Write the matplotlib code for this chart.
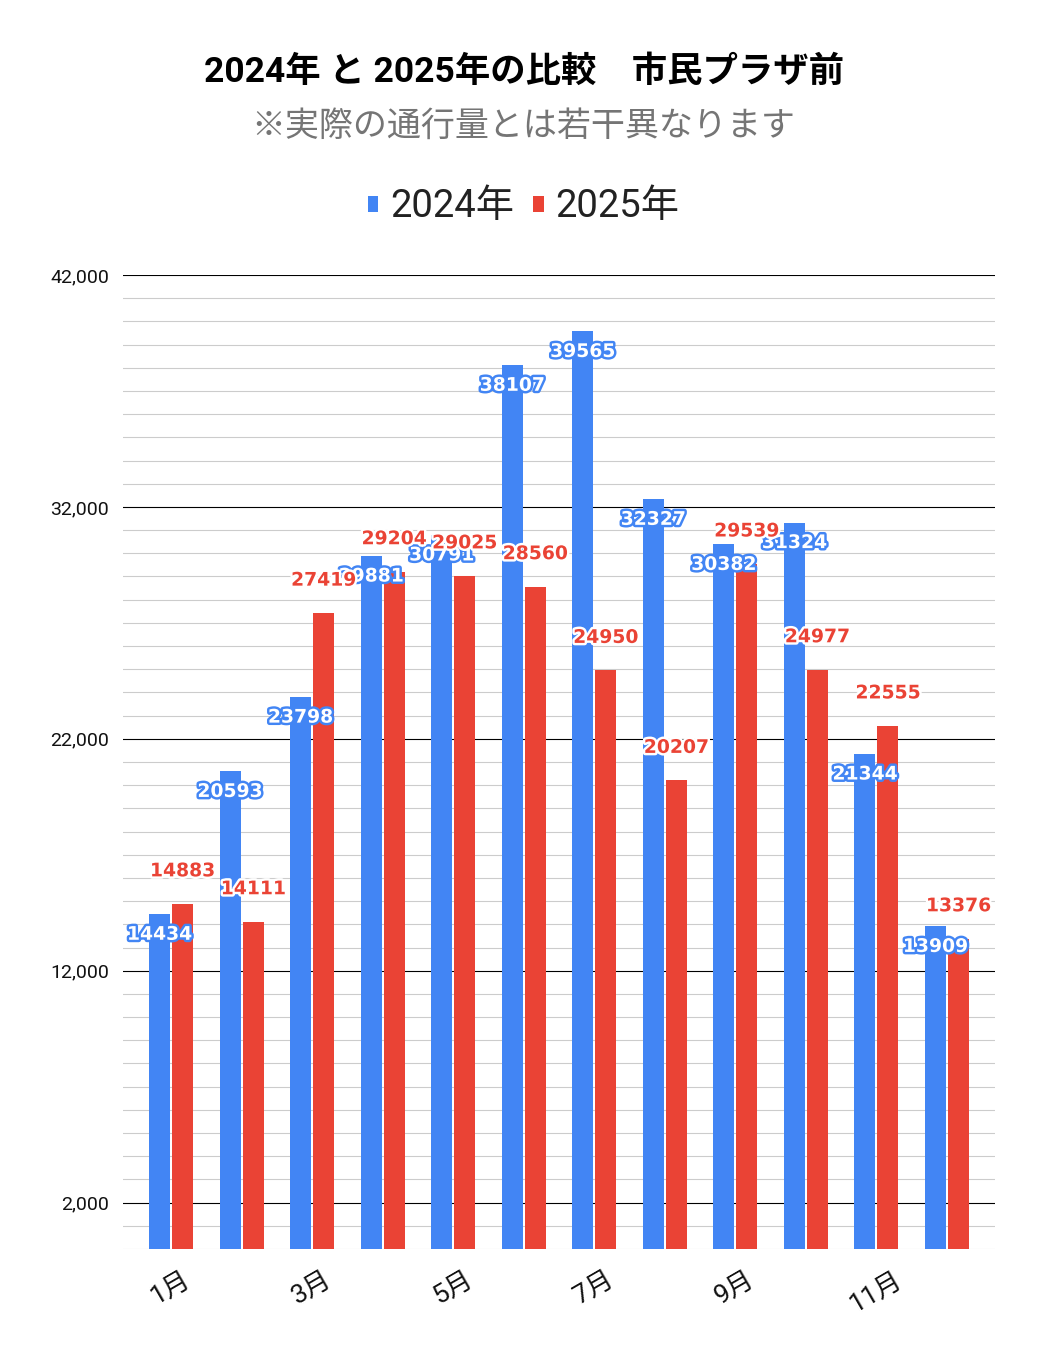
import matplotlib
matplotlib.use("Agg")
import matplotlib.pyplot as plt
import matplotlib.ticker as mticker
import matplotlib.patheffects as pe
import numpy as np

# ── Data ────────────────────────────────────────────────────────────────────
months = ["1月", "2月", "3月", "4月", "5月", "6月",
          "7月", "8月", "9月", "10月", "11月", "12月"]
v2024 = [14434, 20593, 23798, 29881, 30791, 38107,
         39565, 32327, 30382, 31324, 21344, 13909]
v2025 = [14883, 14111, 27419, 29204, 29025, 28560,
         24950, 20207, 29539, 24977, 22555, 13376]
major_ticks = [2000, 12000, 22000, 32000, 42000]

# ── Style ───────────────────────────────────────────────────────────────────
BLUE = "#4285F4"
RED = "#EA4335"
GRID = "#cccccc"
JP = ["Roboto", "Noto Sans CJK JP", "DejaVu Sans"]
plt.rcParams["font.family"] = JP

fig = plt.figure(figsize=(10.47, 13.64), dpi=100, facecolor="white")
ax = fig.add_axes([123 / 1047, 1 - 1249 / 1364, 872 / 1047, 974 / 1364])

xs = np.arange(len(months))
w = 0.298
off = 0.163
b1 = ax.bar(xs - off, v2024, width=w, color=BLUE, zorder=3, label="2024年")
b2 = ax.bar(xs + off, v2025, width=w, color=RED, zorder=3, label="2025年")

# data labels
for x, v in zip(xs - off, v2024):
    ax.annotate(str(v), (x, v), xytext=(0, -20), textcoords="offset pixels",
                ha="center", va="center", fontsize=13.5, fontweight="heavy",
                family="DejaVu Sans", color="white", zorder=5,
                path_effects=[pe.withStroke(linewidth=3.5, foreground=BLUE)])
for x, v in zip(xs + off, v2025):
    ax.annotate(str(v), (x, v), xytext=(0, 33), textcoords="offset pixels",
                ha="center", va="center", fontsize=13.5, fontweight="heavy",
                family="DejaVu Sans", color=RED, zorder=6,
                path_effects=[pe.withStroke(linewidth=3.5, foreground="white")])

# ── Axes ────────────────────────────────────────────────────────────────────
ax.set_xlim(-0.68, 11.68)
ax.set_ylim(0, 42000)
ax.set_yticks(major_ticks)
ax.yaxis.set_minor_locator(mticker.MultipleLocator(1000))
ax.yaxis.set_major_formatter(mticker.FuncFormatter(lambda v, _: f"{v:,.0f}"))
ax.grid(True, which="major", axis="y", color="black", lw=0.8, zorder=1)
ax.grid(True, which="minor", axis="y", color=GRID, lw=0.8, zorder=0)
ax.set_axisbelow(True)
for s in ax.spines.values():
    s.set_visible(False)
ax.tick_params(axis="y", which="both", length=0, pad=10, labelsize=14,
               labelcolor="#111111")

ax.set_xticks(xs)
ax.set_xticklabels([m if i % 2 == 0 else "" for i, m in enumerate(months)],
                   rotation=30, ha="center", fontsize=19, color="#111111")
ax.tick_params(axis="x", length=0, pad=14)

# ── Title / subtitle / legend ───────────────────────────────────────────────
fig.text(0.5, 1 - 72 / 1364, "2024年 と 2025年の比較　市民プラザ前",
         ha="center", va="center", fontsize=25.5, fontweight="bold", color="black")
fig.text(0.5, 1 - 127 / 1364, "※実際の通行量とは若干異なります",
         ha="center", va="center", fontsize=24.5, color="#757575")
fig.legend(handles=[b1, b2], loc="center", bbox_to_anchor=(0.5, 1 - 207 / 1364),
           ncol=2, frameon=False, fontsize=27.5, handlelength=0.28,
           handleheight=0.28, handletextpad=0.3, columnspacing=0.5,
           labelcolor="#222222")

fig.savefig("out.png", dpi=100, facecolor="white")
